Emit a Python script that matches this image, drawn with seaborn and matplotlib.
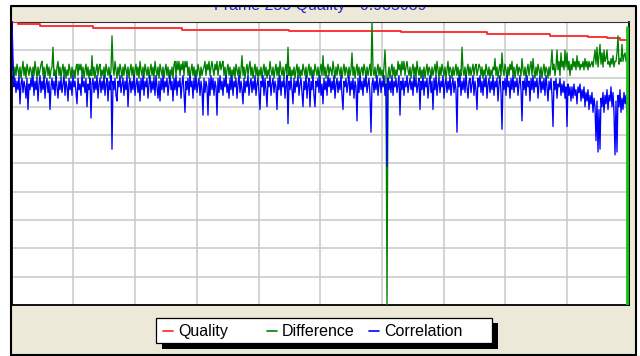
import numpy as np
import pandas as pd
import matplotlib
matplotlib.use("Agg")
import matplotlib.pyplot as plt
from matplotlib.patches import Rectangle
from matplotlib.lines import Line2D
import seaborn as sns

# ---------------- data (percent; one sample per frame) ----------------
title_text = "Frame 255 Quality - 0.935039"
series_names = ["Quality", "Difference", "Correlation"]
series_colors = ["#FF2424", "#008000", "#0000FF"]

quality_start_frame = [1, 6, 28, 81, 170, 277, 389, 475, 538, 576, 595, 608, 615]
quality_level = [99.9, 99.2, 98.5, 97.8, 97.2, 96.8, 96.4, 95.8, 95.1, 94.6, 94.1, 93.5, 93.5]

difference = [
    81, 83, 80, 84, 81, 85, 83, 81, 84, 80, 83, 86, 81, 84, 80, 85, 83, 81, 84, 83,
    80, 84, 81, 86, 83, 80, 84, 81, 83, 85, 86, 81, 84, 80, 83, 85, 81, 84, 80, 83,
    84, 91, 81, 83, 80, 84, 86, 81, 84, 80, 83, 85, 81, 84, 80, 83, 81, 85, 83, 80,
    84, 81, 83, 80, 84, 85, 81, 85, 83, 85, 81, 84, 80, 83, 85, 81, 84, 80, 83, 81,
    88, 81, 84, 80, 83, 85, 81, 84, 85, 80, 83, 81, 84, 80, 85, 83, 81, 84, 80, 83,
    95, 84, 81, 86, 83, 80, 84, 81, 85, 83, 80, 84, 81, 85, 83, 81, 84, 80, 83, 85,
    81, 84, 80, 83, 85, 81, 84, 80, 86, 83, 81, 84, 80, 85, 83, 81, 84, 80, 83, 85,
    81, 84, 80, 86, 83, 81, 84, 80, 85, 83, 81, 84, 80, 83, 85, 81, 84, 80, 83, 81,
    84, 80, 85, 86, 81, 86, 83, 86, 81, 85, 83, 86, 81, 86, 84, 86, 81, 84, 80, 83,
    85, 81, 84, 80, 83, 81, 85, 83, 80, 84, 81, 83, 84, 86, 81, 85, 83, 86, 81, 84,
    86, 83, 81, 85, 83, 86, 81, 84, 86, 83, 85, 86, 81, 84, 80, 83, 85, 81, 84, 80,
    83, 81, 84, 80, 85, 83, 81, 84, 80, 83, 88, 81, 84, 80, 83, 85, 81, 84, 86, 81,
    84, 80, 83, 85, 81, 84, 80, 83, 81, 84, 80, 83, 85, 81, 84, 80, 83, 81, 86, 83,
    81, 84, 80, 83, 85, 81, 84, 80, 86, 83, 81, 84, 80, 83, 85, 81, 91, 81, 84, 80,
    83, 81, 84, 80, 83, 85, 81, 84, 80, 83, 81, 85, 83, 81, 84, 80, 83, 85, 81, 84,
    80, 83, 81, 85, 83, 81, 84, 80, 83, 85, 81, 88, 81, 84, 80, 83, 85, 81, 84, 83,
    81, 86, 83, 80, 84, 81, 85, 83, 81, 84, 80, 83, 85, 81, 84, 83, 80, 84, 81, 83,
    89, 81, 84, 80, 83, 85, 81, 84, 80, 83, 84, 81, 85, 83, 80, 84, 81, 83, 85, 81,
    100, 83, 81, 84, 80, 83, 85, 81, 84, 81, 83, 80, 84, 90, 81, 0, 81, 84, 80, 83,
    85, 81, 84, 80, 83, 81, 86, 83, 85, 81, 86, 83, 86, 81, 84, 86, 83, 81, 84, 80,
    83, 85, 81, 84, 80, 86, 83, 81, 84, 80, 83, 81, 84, 80, 83, 85, 81, 84, 83, 80,
    84, 81, 83, 85, 81, 86, 83, 80, 84, 81, 85, 83, 81, 84, 80, 83, 86, 81, 84, 83,
    80, 84, 81, 83, 85, 81, 84, 80, 83, 81, 91, 83, 81, 84, 80, 83, 85, 81, 84, 81,
    83, 85, 81, 84, 85, 81, 83, 85, 84, 81, 84, 80, 83, 81, 85, 83, 81, 84, 80, 83,
    81, 84, 83, 87, 81, 84, 80, 83, 85, 81, 89, 83, 81, 85, 83, 80, 84, 81, 85, 83,
    86, 81, 84, 80, 83, 85, 81, 84, 83, 81, 87, 83, 81, 84, 80, 83, 85, 81, 84, 86,
    81, 87, 83, 80, 84, 81, 85, 83, 81, 84, 80, 83, 85, 81, 84, 83, 80, 84, 81, 85,
    90, 83, 85, 81, 84, 90, 83, 86, 81, 89, 84, 86, 83, 90, 84, 89, 83, 86, 81, 85,
    83, 87, 84, 86, 83, 88, 84, 86, 83, 85, 84, 86, 83, 87, 84, 86, 83, 86, 84, 85,
    86, 84, 87, 90, 85, 91, 84, 88, 92, 85, 89, 84, 90, 86, 87, 90, 85, 86, 84, 87,
    85, 88, 84, 86, 86, 89, 95, 85, 87, 86, 92, 86, 88, 89, 86, 87,
]

correlation = [
    100, 87, 77, 80, 75, 79, 76, 81, 71, 78, 80, 75, 79, 77, 73, 80, 69, 78, 76, 80,
    77, 81, 74, 79, 76, 80, 72, 78, 81, 75, 79, 76, 81, 73, 78, 80, 75, 79, 69, 77,
    80, 76, 79, 74, 81, 77, 73, 79, 76, 80, 75, 78, 81, 74, 79, 77, 72, 80, 76, 79,
    74, 81, 77, 79, 75, 71, 80, 76, 78, 74, 81, 77, 79, 75, 80, 70, 78, 76, 80, 66,
    78, 80, 75, 79, 76, 81, 73, 78, 80, 75, 79, 76, 81, 74, 78, 80, 72, 79, 76, 81,
    55, 79, 76, 80, 74, 72, 79, 77, 81, 75, 78, 80, 74, 79, 76, 81, 70, 78, 80, 75,
    79, 76, 81, 74, 78, 80, 75, 79, 72, 80, 76, 81, 74, 79, 77, 80, 73, 78, 81, 75,
    79, 76, 80, 74, 81, 77, 73, 79, 72, 80, 76, 81, 75, 79, 77, 80, 74, 78, 81, 76,
    79, 72, 80, 76, 81, 74, 79, 77, 80, 73, 78, 81, 75, 68, 79, 76, 80, 74, 81, 77,
    79, 73, 80, 76, 81, 75, 78, 80, 74, 79, 76, 67, 80, 75, 79, 77, 67, 80, 74, 81,
    76, 80, 74, 79, 77, 67, 80, 75, 81, 76, 79, 74, 80, 77, 81, 75, 78, 73, 80, 76,
    81, 74, 79, 77, 80, 73, 78, 81, 75, 79, 76, 71, 80, 75, 79, 77, 81, 74, 78, 80,
    75, 79, 76, 81, 74, 78, 80, 75, 69, 79, 77, 81, 74, 80, 76, 70, 79, 77, 81, 74,
    78, 80, 75, 79, 77, 69, 80, 76, 81, 74, 79, 77, 80, 73, 78, 81, 64, 79, 76, 80,
    76, 71, 80, 75, 79, 77, 81, 74, 78, 80, 75, 70, 79, 76, 81, 73, 78, 80, 70, 79,
    76, 81, 74, 70, 79, 77, 80, 75, 81, 74, 78, 71, 80, 76, 79, 74, 81, 77, 80, 75,
    79, 76, 81, 73, 78, 80, 75, 79, 76, 81, 74, 69, 79, 77, 80, 75, 78, 81, 74, 79,
    76, 80, 73, 79, 77, 65, 80, 75, 81, 76, 79, 74, 80, 77, 81, 75, 78, 80, 74, 61,
    78, 80, 75, 79, 76, 81, 74, 78, 80, 75, 79, 77, 81, 74, 78, 49, 80, 76, 79, 75,
    81, 74, 79, 77, 80, 75, 78, 81, 67, 79, 76, 80, 74, 79, 77, 81, 75, 78, 80, 76,
    79, 74, 81, 77, 80, 75, 78, 80, 69, 79, 76, 81, 74, 79, 77, 80, 73, 78, 81, 75,
    79, 69, 80, 76, 81, 74, 78, 80, 75, 79, 77, 81, 73, 78, 80, 75, 79, 76, 81, 74,
    78, 80, 75, 79, 76, 61, 80, 77, 81, 74, 79, 76, 80, 75, 81, 77, 73, 79, 80, 75,
    78, 81, 74, 79, 76, 69, 80, 77, 81, 75, 79, 74, 80, 77, 81, 73, 78, 80, 75, 79,
    76, 81, 74, 79, 77, 80, 72, 78, 81, 75, 62, 79, 76, 80, 74, 81, 77, 79, 73, 80,
    76, 81, 75, 79, 77, 80, 74, 78, 81, 76, 65, 79, 76, 80, 74, 81, 77, 79, 72, 80,
    76, 81, 75, 79, 77, 80, 73, 78, 81, 75, 79, 76, 80, 74, 81, 77, 72, 79, 76, 80,
    74, 63, 79, 76, 80, 73, 78, 77, 80, 74, 78, 75, 79, 73, 77, 63, 78, 74, 77, 72,
    77, 73, 78, 74, 76, 71, 77, 75, 78, 72, 76, 73, 77, 70, 75, 72, 76, 69, 74, 71,
    75, 68, 73, 70, 58, 72, 54, 69, 55, 73, 70, 75, 68, 74, 71, 76, 69, 74, 72, 77,
    70, 75, 68, 53, 72, 54, 74, 70, 76, 68, 73, 69, 75, 71, 74, 67,
]

cursor_frame = 615.4
cursor_top_pct = 98

# ---------------- figure ----------------
W, H = 640, 356
sns.set_theme(style="white")
plt.rcParams["font.family"] = ["Liberation Sans", "DejaVu Sans"]

fig = plt.figure(figsize=(W / 100, H / 100), dpi=100, facecolor="white")


def fx(x):
    return x / W


def fy(y):
    return 1 - y / H


# beige panel with black outer border
fig.add_artist(Rectangle((fx(10.5), fy(354.5)), fx(636) - fx(10.5), fy(5.5) - fy(354.5),
                         transform=fig.transFigure, facecolor="#ECE9D8",
                         edgecolor="black", lw=1.5, zorder=-1))

ax_l, ax_r, ax_t, ax_b = 11.7, 628.8, 21.7, 305.0
ax = fig.add_axes([fx(ax_l), fy(ax_b), fx(ax_r) - fx(ax_l), fy(ax_t) - fy(ax_b)])
ax.set_facecolor("#FEFEFE")

frames_d = np.arange(len(difference))
frames_c = np.arange(len(correlation))

sns.lineplot(x=quality_start_frame, y=quality_level, ax=ax, color=series_colors[0],
             lw=1.3, drawstyle="steps-post", legend=False, zorder=3)
sns.lineplot(x=frames_d, y=difference, ax=ax, color=series_colors[1],
             lw=0.95, legend=False, zorder=4)
sns.lineplot(x=frames_c, y=correlation, ax=ax, color=series_colors[2],
             lw=0.95, legend=False, zorder=5)
ax.axvline(cursor_frame, ymin=0, ymax=cursor_top_pct / 100, color="#12C812",
           lw=2.0, zorder=6)

xmin = ax_l - 12
xmax = ax_r - 12
ax.set_xlim(xmin, xmax)
ax.set_ylim(0, 100)
ax.set_xticks(np.linspace(xmin, xmax, 11)[1:-1])
ax.set_yticks(np.arange(10, 100, 10))
ax.grid(True, color="#C8C8C8", lw=1.1, zorder=0)
ax.set_axisbelow(True)
ax.tick_params(length=0, labelbottom=False, labelleft=False)
ax.set_xlabel("")
ax.set_ylabel("")
for side, sp in ax.spines.items():
    sp.set_color("black")
    sp.set_linewidth(1.3)
ax.spines["top"].set_linewidth(0.8)
ax.spines["top"].set_color("#333333")

# title (mostly cut off at the top edge, as in the source window)
fig.text(fx(320), fy(9.6), title_text, ha="center", va="baseline",
         color="#2424E0", fontsize=11.5, zorder=3)
fig.add_artist(Rectangle((0, fy(6.0)), 1, 1 - fy(6.0), transform=fig.transFigure,
                         facecolor="white", edgecolor="none", zorder=8))
fig.add_artist(Line2D([fx(10.5), fx(636)], [fy(5.8), fy(5.8)], transform=fig.transFigure,
                      color="black", lw=1.5, zorder=9))

# legend box with shadow
lx0, lx1, ly0, ly1 = 156, 492, 317.7, 343.3
fig.add_artist(Rectangle((fx(lx0 + 6), fy(ly1 + 5.5)), fx(lx1 + 5.5) - fx(lx0 + 6),
                         fy(ly0 + 5) - fy(ly1 + 5.5), transform=fig.transFigure,
                         facecolor="black", edgecolor="none", zorder=2))
fig.add_artist(Rectangle((fx(lx0), fy(ly1)), fx(lx1) - fx(lx0), fy(ly0) - fy(ly1),
                         transform=fig.transFigure, facecolor="white",
                         edgecolor="black", lw=0.9, zorder=3))
handle_x = [163, 266.5, 368.5]
text_x = [178.5, 282, 384.5]
for name, col, hx, tx in zip(series_names, series_colors, handle_x, text_x):
    fig.add_artist(Line2D([fx(hx), fx(hx + 10)], [fy(331), fy(331)],
                          transform=fig.transFigure, color=col, lw=1.2, zorder=4))
    fig.text(fx(tx), fy(336.2), name, ha="left", va="baseline", color="black",
             fontsize=11.5, zorder=4)

fig.savefig("out.png", dpi=100, facecolor="white")
